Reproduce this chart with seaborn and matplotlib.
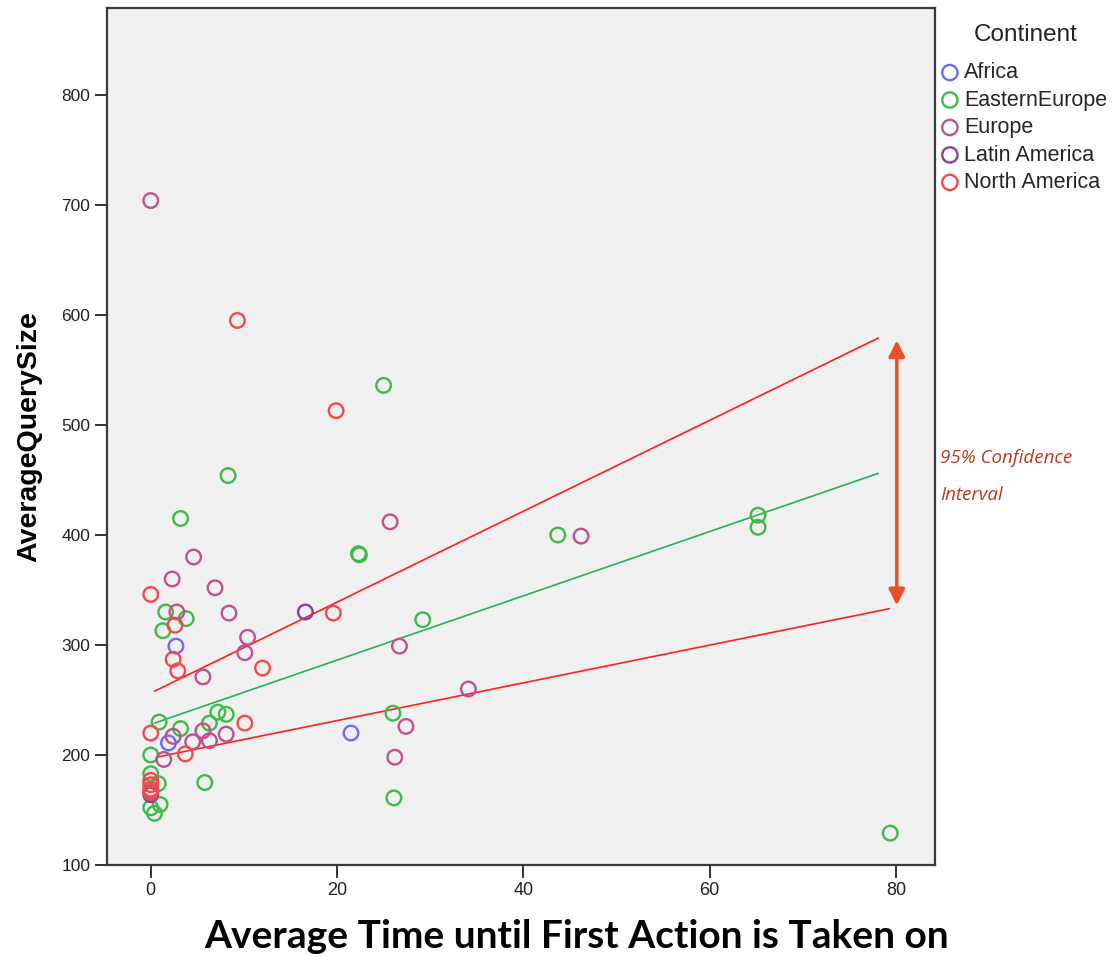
import numpy as np
import pandas as pd
import matplotlib
matplotlib.use("Agg")
import matplotlib.pyplot as plt
import seaborn as sns

# values
continents = ["Africa", "EasternEurope", "Europe", "Latin America", "North America"]
colors = ["#6b6bff", "#3dbb47", "#c2508e", "#8a3d9c", "#f24a4a"]

africa_x = [2.7, 1.9, 21.5]
africa_y = [299, 211, 220]

eastern_x = [25.0, 8.3, 3.2, 22.3, 22.4, 43.7, 65.2, 65.2, 79.4, 29.2, 1.6, 3.8, 1.3,
             7.2, 8.1, 0.9, 3.2, 6.3, 26.0, 26.1, 0.0, 5.8, 0.0, 0.8, 0.0, 1.0, 0.4]
eastern_y = [536, 454, 415, 383, 382, 400, 418, 407, 129, 323, 330, 324, 313,
             239, 237, 230, 224, 229, 238, 161, 200, 175, 183, 174, 152, 155, 147]

europe_x = [0.0, 25.7, 46.2, 4.6, 2.3, 6.9, 8.4, 2.8, 10.4, 10.1, 5.6, 26.7, 34.1,
            27.4, 26.2, 2.4, 1.4, 4.5, 5.6, 6.3, 8.1, 0.0]
europe_y = [704, 412, 399, 380, 360, 352, 329, 330, 307, 293, 271, 299, 260,
            226, 198, 217, 196, 212, 222, 213, 219, 167]

latin_x = [16.6, 0.0]
latin_y = [330, 164]

north_x = [0.0, 9.3, 19.9, 19.6, 2.6, 12.0, 2.4, 2.9, 10.1, 0.0, 3.7, 0.0, 0.0, 0.0, 0.0]
north_y = [346, 595, 513, 329, 318, 279, 287, 276.5, 229, 220, 201, 177, 173, 166, 169]

# fit line and the two confidence lines (end points)
fit_x = [0.4, 78.1]
fit_y = [229, 456]
upper_x = [0.4, 78.1]
upper_y = [258, 579]
lower_x = [0.6, 79.3]
lower_y = [198, 333]

xs = [africa_x, eastern_x, europe_x, latin_x, north_x]
ys = [africa_y, eastern_y, europe_y, latin_y, north_y]
rows = []
for name, gx, gy in zip(continents, xs, ys):
    for a, b in zip(gx, gy):
        rows.append({"time": a, "size": b, "Continent": name})
df = pd.DataFrame(rows)

sns.set_theme(style="white")
plt.rcParams["font.family"] = ["Liberation Sans", "DejaVu Sans"]

fig = plt.figure(figsize=(11.18, 9.57), dpi=100)
ax = fig.add_axes([0.0957, 0.0961, 0.7406, 0.8955])
ax.set_facecolor("#f0f0f0")

for name, col in zip(continents, colors):
    sub = df[df["Continent"] == name]
    sns.scatterplot(data=sub, x="time", y="size", ax=ax, s=110, color=col,
                    facecolor="none", edgecolor=col, linewidth=1.7, label=name,
                    zorder=3)

ax.plot(fit_x, fit_y, color="#22b455", lw=1.2, zorder=2)
ax.plot(upper_x, upper_y, color="#ff2020", lw=1.2, zorder=2)
ax.plot(lower_x, lower_y, color="#ff2020", lw=1.2, zorder=2)

# double headed arrow for the interval
ax.annotate("", xy=(80.1, 577), xytext=(80.1, 336),
            arrowprops=dict(arrowstyle="<|-|>", color="#e8502a", lw=2.5,
                            mutation_scale=24, shrinkA=0, shrinkB=0))

fig.text(0.841, 0.521, "95% Confidence", color="#b83a22", fontsize=13.5,
         style="italic", family="Open Sans", va="center", ha="left")
fig.text(0.841, 0.483, "Interval", color="#b83a22", fontsize=13.5,
         style="italic", family="Open Sans", va="center", ha="left")

ax.set_xlim(-4.7, 84.2)
ax.set_ylim(100, 879)
ax.set_xticks([0, 20, 40, 60, 80])
ax.set_yticks([100, 200, 300, 400, 500, 600, 700, 800])
ax.tick_params(axis="both", bottom=True, left=True, direction="out", length=9,
               width=1.4, color="#333333", labelcolor="#222222", pad=3)
ax.tick_params(axis="y", labelsize=12.5)
ax.tick_params(axis="x", labelsize=13)
for sp in ax.spines.values():
    sp.set_color("#3a3a3a")
    sp.set_linewidth(1.6)

ax.set_xlabel("")
ax.set_ylabel("AverageQuerySize", fontsize=20.5, fontweight="bold", labelpad=14,
              color="black")
fig.text(0.516, 0.009, "Average Time until First Action is Taken on", fontsize=28,
         fontweight="bold", family="Lato", ha="center", va="baseline", color="black")

# legend: title placed on its own so the gap below it matches
fig.text(0.917, 0.963, "Continent", fontsize=17.5, ha="center", va="center",
         color="#222222")
leg = ax.legend(loc="upper left", bbox_to_anchor=(0.840, 0.935),
                bbox_transform=fig.transFigure, frameon=False, fontsize=15.5,
                handletextpad=0.15, handlelength=1.0,
                labelspacing=0.3, borderaxespad=0, borderpad=0, markerscale=1.05)

fig.savefig("out.png", dpi=100, facecolor="white")
